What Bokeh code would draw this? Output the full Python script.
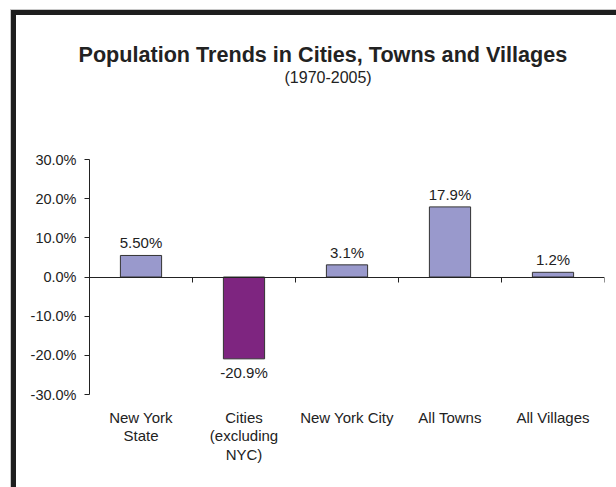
from bokeh.plotting import figure
from bokeh.models import (ColumnDataSource, LinearAxis, FixedTicker, PrintfTickFormatter,
                          Range1d, Title, CustomJSTickFormatter)
from bokeh.core.properties import value
from bokeh.embed import file_html
from bokeh.resources import INLINE

categories = ["New York\nState", "Cities\n(excluding\nNYC)", "New York City", "All Towns", "All Villages"]
values = [5.5, -20.9, 3.1, 17.9, 1.2]
value_labels = ["5.50%", "-20.9%", "3.1%", "17.9%", "1.2%"]
y_ticks = [-30, -20, -10, 0, 10, 20, 30]
title_text = "Population Trends in Cities, Towns and Villages"
subtitle_text = "(1970-2005)"

FONT = "Liberation Sans"
TXT = "#222222"
FRAME = "#1e1e1e"

n = len(categories)
xs = [i + 0.5 for i in range(n)]
colors = ["#9999CC" if v >= 0 else "#7E2580" for v in values]
baselines = ["bottom" if v >= 0 else "top" for v in values]
offsets = [-4 if v >= 0 else 5 for v in values]

src = ColumnDataSource(dict(x=xs, top=values, color=colors, label=value_labels,
                            baseline=baselines, yoff=offsets))

# outer chart frame (thick black rule on the left and top, cropped at right/bottom)
frame_css = (
    f"linear-gradient({FRAME}, {FRAME}) 11px 10px / 5px 477px no-repeat, "
    f"linear-gradient({FRAME}, {FRAME}) 11px 10px / 605px 5px no-repeat, "
    "linear-gradient(#c8c8c8, #c8c8c8) 10px 9px / 1px 478px no-repeat, "
    "linear-gradient(#c8c8c8, #c8c8c8) 10px 9px / 606px 1px no-repeat, white"
)

p = figure(width=616, height=487, output_backend="svg", toolbar_location=None,
           x_range=Range1d(0, n), y_range=Range1d(y_ticks[0], y_ticks[-1]),
           min_border_left=89, min_border_right=12, min_border_top=159, min_border_bottom=93,
           styles={"background": frame_css})
p.outline_line_color = None
p.xgrid.visible = False
p.ygrid.visible = False
p.background_fill_color = None
p.border_fill_color = None

p.vbar(x="x", top="top", bottom=0, width=0.4, fill_color="color", line_color="#333333",
       line_width=1, source=src)
p.text(x="x", y="top", text="label", source=src, text_align="center",
       text_baseline="baseline", y_offset="yoff", text_font_size="15px",
       text_color=TXT, text_font=value(FONT))

# y axis
ya = p.yaxis[0]
ya.ticker = FixedTicker(ticks=y_ticks)
ya.formatter = PrintfTickFormatter(format="%.1f%%")
ya.minor_tick_line_color = None
ya.major_tick_in = 0
ya.major_tick_out = 5
ya.axis_line_color = "#222222"
ya.major_tick_line_color = "#222222"
ya.major_label_text_font = FONT
ya.major_label_text_font_size = "14.5px"
ya.major_label_text_color = TXT
ya.major_label_standoff = 8

# category axis
xa = p.xaxis[0]
xa.ticker = FixedTicker(ticks=xs)
xa.major_label_overrides = {x: c for x, c in zip(xs, categories)}
xa.axis_line_color = None
xa.major_tick_line_color = None
xa.minor_tick_line_color = None
xa.major_label_text_font = FONT
xa.major_label_text_font_size = "15px"
xa.major_label_text_color = TXT
xa.major_label_text_line_height = 1.1
xa.major_label_standoff = 8

# zero line with ticks at category boundaries
za = LinearAxis(fixed_location=0, ticker=FixedTicker(ticks=list(range(n + 1))),
                formatter=CustomJSTickFormatter(code="return ''"))
za.axis_line_color = "#222222"
za.major_tick_line_color = "#222222"
za.minor_tick_line_color = None
za.major_tick_in = 0
za.major_tick_out = 5
za.major_label_standoff = 0
p.add_layout(za, "below")

# invisible spacer between the plot area and the titles (one white tick at the right end)
spacer = LinearAxis(ticker=FixedTicker(ticks=[n]), formatter=CustomJSTickFormatter(code="return ''"))
spacer.axis_line_color = None
spacer.major_tick_line_color = "white"
spacer.minor_tick_line_color = None
spacer.major_tick_in = 0
spacer.major_tick_out = 74
spacer.major_label_standoff = 0
p.add_layout(spacer, "above")

# titles (subtitle first: closer to the plot)
p.add_layout(Title(text=subtitle_text, align="left", offset=195, standoff=0, text_font=FONT,
                   text_font_size="16px", text_font_style="normal", text_color=TXT), "above")
p.add_layout(Title(text=title_text, align="left", offset=-11, standoff=0, text_font=FONT,
                   text_font_size="21.6px", text_font_style="bold", text_color=TXT), "above")

open("out.html", "w").write(file_html(p, INLINE))
